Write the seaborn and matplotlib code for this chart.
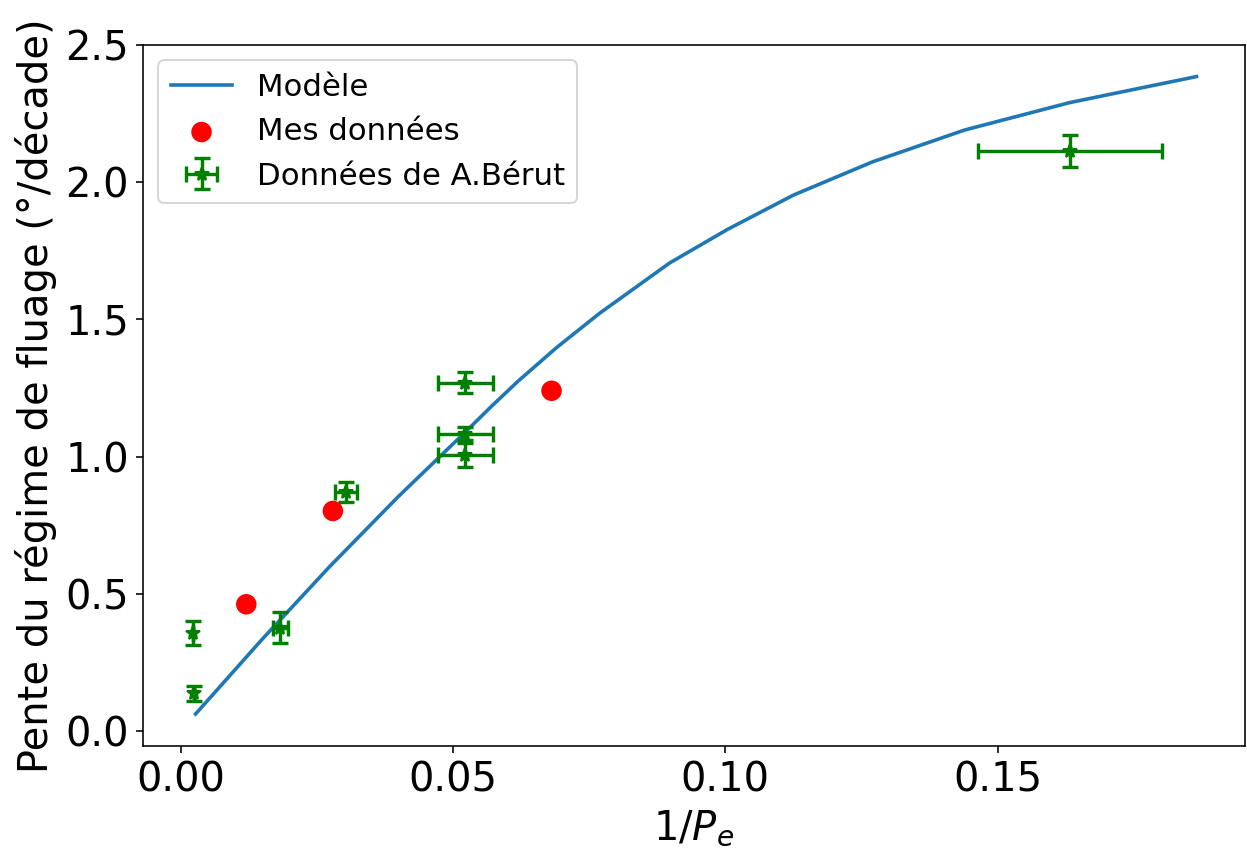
import matplotlib
matplotlib.use("Agg")
import matplotlib.pyplot as plt
import seaborn as sns
import pandas as pd

# Model curve
model_x = [0.00275, 0.0150, 0.02735, 0.0400, 0.0523, 0.0570, 0.0619, 0.0690,
           0.0769, 0.0898, 0.1004, 0.1125, 0.1270, 0.1439, 0.1632, 0.1865]
model_y = [0.062, 0.335, 0.599, 0.855, 1.090, 1.182, 1.274, 1.397,
           1.522, 1.706, 1.828, 1.953, 2.074, 2.190, 2.290, 2.385]

# My data
mes_x = [0.01206, 0.02796, 0.0681]
mes_y = [0.462, 0.802, 1.240]

# Data from A. Bérut
berut_x = [0.00226, 0.00239, 0.0183, 0.0304, 0.0523, 0.0523, 0.0523, 0.1633]
berut_y = [0.356, 0.137, 0.376, 0.872, 1.270, 1.084, 1.006, 2.115]
berut_xerr = [0.0, 0.0, 0.00138, 0.0020, 0.0051, 0.0051, 0.0051, 0.0169]
berut_yerr = [0.044, 0.026, 0.056, 0.036, 0.039, 0.025, 0.044, 0.058]

W, H, DPI = 1247, 850, 144
fig = plt.figure(figsize=(W / DPI, H / DPI), dpi=DPI)
ax = fig.add_axes([143 / W, (H - 746) / H, (1245 - 143) / W, (746 - 45) / H])

df_model = pd.DataFrame({"x": model_x, "y": model_y})
df_mes = pd.DataFrame({"x": mes_x, "y": mes_y})

sns.lineplot(data=df_model, x="x", y="y", sort=False, color="#1f77b4",
             linewidth=1.8, ax=ax, label="Modèle")
sns.scatterplot(data=df_mes, x="x", y="y", color="red", s=105,
                edgecolor="none", ax=ax, label="Mes données", zorder=3)
ax.errorbar(berut_x, berut_y, xerr=berut_xerr, yerr=berut_yerr, fmt="*",
            color="green", capsize=4, markersize=7, elinewidth=1.7,
            capthick=1.7, label="Données de A.Bérut")

ax.set_xlim(-0.0069, 0.1954)
ax.set_ylim(-0.0545, 2.5)
ax.set_xticks([0.00, 0.05, 0.10, 0.15])
ax.set_yticks([0.0, 0.5, 1.0, 1.5, 2.0, 2.5])
ax.tick_params(labelsize=20)
ax.set_xlabel("$1/P_e$", fontsize=20)
ax.set_ylabel("Pente du régime de fluage (°/décade)", fontsize=20)

handles, labels = ax.get_legend_handles_labels()
order = ["Modèle", "Mes données", "Données de A.Bérut"]
hmap = dict(zip(labels, handles))
ax.legend([hmap[k] for k in order], order, loc="upper left", fontsize=15.4)

fig.savefig("out.png", dpi=DPI)
